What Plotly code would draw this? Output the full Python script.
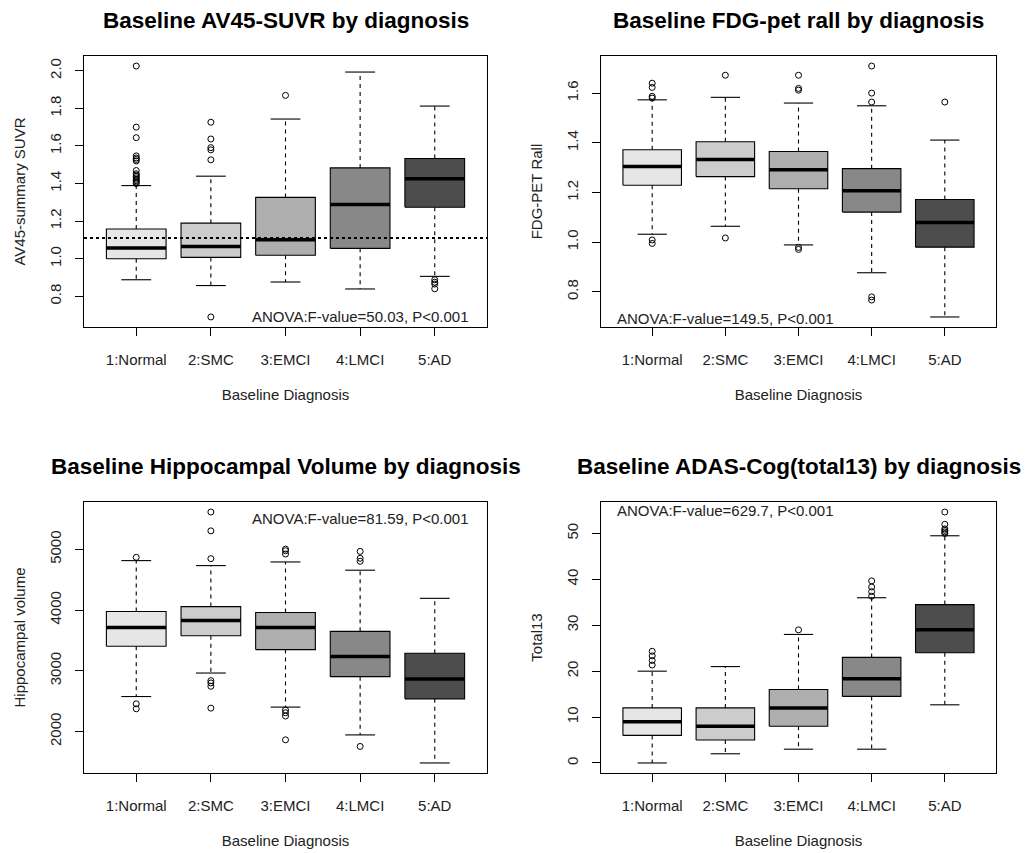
import plotly.graph_objects as go

# ---------------- data ----------------
groups = ["1:Normal", "2:SMC", "3:EMCI", "4:LMCI", "5:AD"]
positions = [1, 2, 3, 4, 5]
fills = ["#E6E6E6", "#CCCCCC", "#AEAEAE", "#888888", "#4D4D4D"]

# Panel 1: AV45 SUVR
av45_q1 = [1.000, 1.007, 1.018, 1.055, 1.274]
av45_med = [1.057, 1.065, 1.101, 1.288, 1.425]
av45_q3 = [1.158, 1.189, 1.326, 1.483, 1.533]
av45_lo = [0.888, 0.857, 0.876, 0.839, 0.906]
av45_hi = [1.389, 1.439, 1.743, 1.993, 1.812]
av45_out = [
    [2.025, 1.700, 1.644, 1.547, 1.536, 1.528, 1.520, 1.469, 1.452, 1.445,
     1.438, 1.430, 1.422, 1.415, 1.408, 1.400],
    [1.726, 1.637, 1.591, 1.579, 1.526, 0.690],
    [1.869],
    [],
    [0.888, 0.875, 0.865, 0.840],
]
av45_cutoff = 1.11

# Panel 2: FDG-PET
fdg_q1 = [1.229, 1.264, 1.215, 1.121, 0.980]
fdg_med = [1.305, 1.333, 1.292, 1.207, 1.079]
fdg_q3 = [1.372, 1.404, 1.365, 1.296, 1.172]
fdg_lo = [1.032, 1.064, 0.989, 0.877, 0.699]
fdg_hi = [1.573, 1.583, 1.560, 1.549, 1.411]
fdg_out = [
    [1.640, 1.623, 1.587, 1.580, 1.009, 0.995],
    [1.672, 1.017],
    [1.672, 1.619, 1.612, 0.979, 0.971],
    [1.709, 1.600, 1.564, 0.780, 0.767],
    [1.564],
]

# Panel 3: Hippocampal volume
hip_q1 = [3405, 3579, 3350, 2904, 2539]
hip_med = [3715, 3829, 3715, 3236, 2866]
hip_q3 = [3976, 4058, 3960, 3650, 3290]
hip_lo = [2577, 2964, 2403, 1945, 1483]
hip_hi = [4815, 4733, 4793, 4657, 4194]
hip_out = [
    [4869, 2457, 2375],
    [5615, 5305, 4848, 2838, 2800, 2746, 2386],
    [5005, 4978, 4924, 2354, 2310, 2256, 1864],
    [4967, 4853, 4804, 1755],
    [],
]

# Panel 4: ADAS-Cog 13
adas_q1 = [6, 5, 8, 14.5, 24]
adas_med = [9, 8, 12, 18.33, 29]
adas_q3 = [12, 12, 16, 23, 34.5]
adas_lo = [0, 2, 3, 3, 12.67]
adas_hi = [20, 21, 28, 36, 49.5]
adas_out = [
    [21.33, 22.33, 23.33, 24.33],
    [],
    [29],
    [36.33, 37.33, 38.33, 39.67],
    [50, 50.33, 50.67, 51, 52, 54.67],
]

titles = ["Baseline AV45-SUVR by diagnosis", "Baseline FDG-pet rall by diagnosis",
          "Baseline Hippocampal Volume by diagnosis", "Baseline ADAS-Cog(total13) by diagnosis"]
ytitles = ["AV45-summary SUVR", "FDG-PET Rall", "Hippocampal volume", "Total13"]
anova = ["ANOVA:F-value=50.03, P<0.001", "ANOVA:F-value=149.5, P<0.001",
         "ANOVA:F-value=81.59, P<0.001", "ANOVA:F-value=629.7, P<0.001"]
xtitle = "Baseline Diagnosis"
dticks = [0.2, 0.2, 1000, 10]
tickformats = [".1f", ".1f", "d", "d"]

panels = [
    (av45_q1, av45_med, av45_q3, av45_lo, av45_hi, av45_out),
    (fdg_q1, fdg_med, fdg_q3, fdg_lo, fdg_hi, fdg_out),
    (hip_q1, hip_med, hip_q3, hip_lo, hip_hi, hip_out),
    (adas_q1, adas_med, adas_q3, adas_lo, adas_hi, adas_out),
]

# ---------------- layout geometry (pixels) ----------------
W, H = 1033, 853
dom_px_x = [(84, 487), (601, 996), (84, 487), (601, 996)]
dom_px_y = [(56, 327), (56, 327), (502, 773), (502, 773)]
FONT = "Liberation Sans, Arial, sans-serif"
TXT = "#222"
BOX_HW = 0.4
CAP_HW = 0.2

fig = go.Figure()
layout_axes = {}
annotations = []
shapes = []

for i, (q1, med, q3, lo, hi, outs) in enumerate(panels):
    sfx = "" if i == 0 else str(i + 1)
    xa, ya = "x" + sfx, "y" + sfx
    common = dict(xaxis=xa, yaxis=ya, hoverinfo="skip", showlegend=False)
    for j, x in enumerate(positions):
        # dashed whiskers
        fig.add_trace(go.Scatter(x=[x, x, None, x, x], y=[q3[j], hi[j], None, q1[j], lo[j]],
                                 mode="lines", line=dict(color="black", width=1.1, dash="4px,4px"),
                                 **common))
        # staples
        fig.add_trace(go.Scatter(x=[x - CAP_HW, x + CAP_HW, None, x - CAP_HW, x + CAP_HW],
                                 y=[hi[j], hi[j], None, lo[j], lo[j]],
                                 mode="lines", line=dict(color="black", width=1.1), **common))
        # box
        fig.add_trace(go.Scatter(x=[x - BOX_HW, x + BOX_HW, x + BOX_HW, x - BOX_HW, x - BOX_HW],
                                 y=[q1[j], q1[j], q3[j], q3[j], q1[j]],
                                 mode="lines", fill="toself", fillcolor=fills[j],
                                 line=dict(color="black", width=1.1), **common))
        # median
        fig.add_trace(go.Scatter(x=[x - BOX_HW, x + BOX_HW], y=[med[j], med[j]],
                                 mode="lines", line=dict(color="black", width=3.5), **common))
        # outliers
        if outs[j]:
            fig.add_trace(go.Scatter(x=[x] * len(outs[j]), y=outs[j], mode="markers",
                                     marker=dict(symbol="circle-open", size=6, color="black",
                                                 line=dict(width=1, color="black")),
                                     **common))

    allv = lo + hi + [v for o in outs for v in o]
    vmin, vmax = min(allv), max(allv)
    pad = 0.04 * (vmax - vmin)
    x0, x1 = dom_px_x[i]
    y0, y1 = dom_px_y[i]
    layout_axes["xaxis" + sfx] = dict(
        domain=[x0 / W, x1 / W], range=[0.3, 5.7], anchor=ya,
        tickmode="array", tickvals=positions, ticktext=groups,
        ticks="outside", ticklen=8, tickcolor="black", tickwidth=1,
        showline=True, linecolor="black", linewidth=1, mirror=True,
        showgrid=False, zeroline=False, ticklabelstandoff=11,
        tickfont=dict(family=FONT, size=15, color=TXT),
        title=dict(text=xtitle, font=dict(family=FONT, size=15, color=TXT), standoff=22),
        automargin=False, fixedrange=True,
    )
    layout_axes["yaxis" + sfx] = dict(
        domain=[1 - y1 / H, 1 - y0 / H], range=[vmin - pad, vmax + pad], anchor=xa,
        dtick=dticks[i], tick0=0, tickangle=-90, tickformat=tickformats[i],
        ticks="outside", ticklen=8, tickcolor="black", tickwidth=1,
        showline=True, linecolor="black", linewidth=1, mirror=True,
        showgrid=False, zeroline=False, ticklabelstandoff=8,
        tickfont=dict(family=FONT, size=15, color=TXT),
        title=dict(text=ytitles[i], font=dict(family=FONT, size=15, color=TXT), standoff=17),
        automargin=False, fixedrange=True,
    )
    # panel title
    annotations.append(dict(text="<b>" + titles[i] + "</b>", xref="paper", yref="paper",
                            x=(x0 + x1) / 2 / W, y=1 - (y0 - 36) / H, xanchor="center",
                            yanchor="middle", showarrow=False,
                            font=dict(family=FONT, size=22.5, color="black")))

# ANOVA labels
annotations.append(dict(text=anova[0], xref="paper", yref="paper", x=471 / W, y=1 - 317 / H,
                        xanchor="right", yanchor="middle", showarrow=False,
                        font=dict(family=FONT, size=15, color=TXT)))
annotations.append(dict(text=anova[1], xref="paper", yref="paper", x=615 / W, y=1 - 318 / H,
                        xanchor="left", yanchor="middle", showarrow=False,
                        font=dict(family=FONT, size=15, color=TXT)))
annotations.append(dict(text=anova[2], xref="paper", yref="paper", x=471 / W, y=1 - 518 / H,
                        xanchor="right", yanchor="middle", showarrow=False,
                        font=dict(family=FONT, size=15, color=TXT)))
annotations.append(dict(text=anova[3], xref="paper", yref="paper", x=615 / W, y=1 - 511 / H,
                        xanchor="left", yanchor="middle", showarrow=False,
                        font=dict(family=FONT, size=15, color=TXT)))

# dotted cutoff line in panel 1
shapes.append(dict(type="line", xref="x domain", yref="y", x0=0, x1=1,
                   y0=av45_cutoff, y1=av45_cutoff,
                   line=dict(color="black", width=2, dash="dot")))

fig.update_layout(
    width=W, height=H, margin=dict(l=0, r=0, t=0, b=0),
    paper_bgcolor="white", plot_bgcolor="white",
    showlegend=False, annotations=annotations, shapes=shapes,
    font=dict(family=FONT, size=15, color=TXT),
    **layout_axes,
)

fig.write_html("out.html", config={"displayModeBar": False})
